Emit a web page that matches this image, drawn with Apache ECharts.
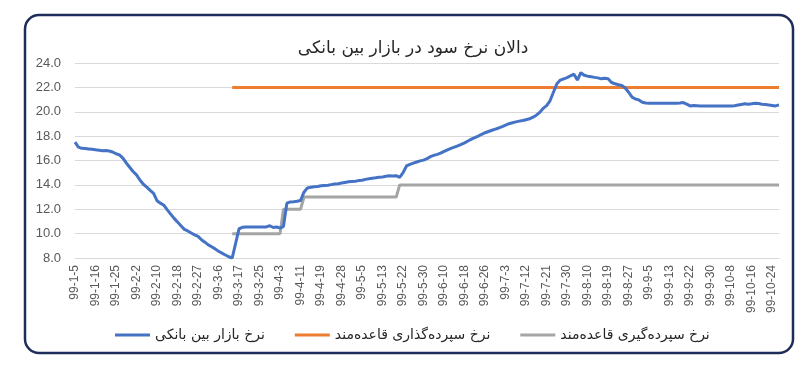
<!DOCTYPE html>
<html><head><meta charset="utf-8">
<script src="https://cdn.jsdelivr.net/npm/echarts@6/dist/echarts.min.js"></script>
<style>html,body{margin:0;padding:0;background:#fff}#c{width:800px;height:381px}</style>
</head><body><div id="c"></div>
<script>
const chartTitle = 'دالان نرخ سود در بازار بین بانکی';
const seriesNames = ['نرخ بازار بین بانکی', 'نرخ سپرده‌گذاری قاعده‌مند', 'نرخ سپرده‌گیری قاعده‌مند'];
const tickLabels = ['99-1-5','99-1-16','99-1-25','99-2-2','99-2-10','99-2-18','99-2-27','99-3-6','99-3-17','99-3-25','99-4-3','99-4-11','99-4-19','99-4-28','99-5-5','99-5-13','99-5-22','99-5-30','99-6-10','99-6-18','99-6-26','99-7-3','99-7-12','99-7-21','99-7-30','99-8-10','99-8-19','99-8-27','99-9-5','99-9-13','99-9-22','99-9-30','99-10-8','99-10-16','99-10-24'];
const tailDates = ['99-10-25','99-10-26'];
const yTicks = [8, 10, 12, 14, 16, 18, 20, 22, 24];

const interbank = [
17.5,17.1,17.0,16.98,16.95,16.92,16.88,16.85,16.8,16.82,
16.78,16.7,16.55,16.46,16.2,15.8,15.45,15.1,14.82,14.4,
14.05,13.82,13.55,13.3,12.7,12.5,12.33,11.95,11.6,11.25,
10.95,10.65,10.35,10.22,10.05,9.9,9.77,9.5,9.3,9.08,
8.92,8.75,8.55,8.4,8.25,8.1,8.0,9.2,10.4,10.52,
10.55,10.55,10.55,10.55,10.55,10.55,10.55,10.65,10.5,10.55,
10.45,10.6,12.5,12.6,12.62,12.65,12.72,13.4,13.75,13.8,
13.85,13.87,13.92,13.95,13.97,14.02,14.07,14.1,14.15,14.2,
14.25,14.28,14.3,14.35,14.38,14.45,14.5,14.55,14.58,14.62,
14.65,14.7,14.75,14.72,14.75,14.62,15.0,15.55,15.68,15.78,
15.88,15.97,16.03,16.15,16.32,16.42,16.5,16.6,16.75,16.88,
17.0,17.1,17.2,17.32,17.45,17.6,17.75,17.88,18.0,18.15,
18.28,18.38,18.48,18.58,18.67,18.78,18.9,19.02,19.1,19.17,
19.23,19.28,19.35,19.42,19.55,19.72,19.95,20.28,20.5,20.9,
21.6,22.3,22.6,22.7,22.8,22.95,23.08,22.6,23.2,23.0,
22.92,22.88,22.82,22.78,22.7,22.75,22.7,22.4,22.3,22.22,
22.15,21.95,21.6,21.2,21.05,20.97,20.78,20.72,20.7,20.7,
20.7,20.7,20.7,20.7,20.7,20.7,20.7,20.72,20.75,20.62,
20.48,20.52,20.5,20.48,20.48,20.48,20.48,20.48,20.48,20.48,
20.48,20.48,20.48,20.5,20.55,20.6,20.65,20.62,20.65,20.7,
20.68,20.62,20.6,20.56,20.52,20.48,20.56
];

const depositFacility = [
null,null,null,null,null,null,null,null,null,null,
null,null,null,null,null,null,null,null,null,null,
null,null,null,null,null,null,null,null,null,null,
null,null,null,null,null,null,null,null,null,null,
null,null,null,null,null,null,22,22,22,22,
22,22,22,22,22,22,22,22,22,22,
22,22,22,22,22,22,22,22,22,22,
22,22,22,22,22,22,22,22,22,22,
22,22,22,22,22,22,22,22,22,22,
22,22,22,22,22,22,22,22,22,22,
22,22,22,22,22,22,22,22,22,22,
22,22,22,22,22,22,22,22,22,22,
22,22,22,22,22,22,22,22,22,22,
22,22,22,22,22,22,22,22,22,22,
22,22,22,22,22,22,22,22,22,22,
22,22,22,22,22,22,22,22,22,22,
22,22,22,22,22,22,22,22,22,22,
22,22,22,22,22,22,22,22,22,22,
22,22,22,22,22,22,22,22,22,22,
22,22,22,22,22,22,22,22,22,22,
22,22,22,22,22,22,22
];

const lendingFacility = [
null,null,null,null,null,null,null,null,null,null,
null,null,null,null,null,null,null,null,null,null,
null,null,null,null,null,null,null,null,null,null,
null,null,null,null,null,null,null,null,null,null,
null,null,null,null,null,null,10,10,10,10,
10,10,10,10,10,10,10,10,10,10,
10,12,12,12,12,12,12,13,13,13,
13,13,13,13,13,13,13,13,13,13,
13,13,13,13,13,13,13,13,13,13,
13,13,13,13,13,14,14,14,14,14,
14,14,14,14,14,14,14,14,14,14,
14,14,14,14,14,14,14,14,14,14,
14,14,14,14,14,14,14,14,14,14,
14,14,14,14,14,14,14,14,14,14,
14,14,14,14,14,14,14,14,14,14,
14,14,14,14,14,14,14,14,14,14,
14,14,14,14,14,14,14,14,14,14,
14,14,14,14,14,14,14,14,14,14,
14,14,14,14,14,14,14,14,14,14,
14,14,14,14,14,14,14,14,14,14,
14,14,14,14,14,14,14
];

// Full category list: labelled dates every 6th point, intermediate dates spaced between them (labels only).
const monthLen = [31,31,31,31,31,31,30,30,30,30,30,29];
function toDay(s){const p=s.split('-');const m=+p[1],d=+p[2];let n=0;for(let i=0;i<m-1;i++)n+=monthLen[i];return n+d;}
function fromDay(n){let m=0;while(n>monthLen[m]){n-=monthLen[m];m++;}return '99-'+(m+1)+'-'+n;}
const categories = [];
for (let k = 0; k < tickLabels.length; k++) {
  categories.push(tickLabels[k]);
  if (k < tickLabels.length - 1) {
    const a = toDay(tickLabels[k]), b = toDay(tickLabels[k+1]);
    for (let j = 1; j < 6; j++) categories.push(fromDay(Math.round(a + (b - a) * j / 6)));
  }
}
tailDates.forEach(d => categories.push(d));

const FONT = 'DejaVu Sans';
const chart = echarts.init(document.getElementById('c'));
chart.setOption({
  animation: false,
  backgroundColor: '#fff',
  graphic: [{
    type: 'rect', z: -1,
    shape: { x: 25, y: 15, width: 768, height: 338, r: 14 },
    style: { fill: 'none', stroke: '#1f2d5a', lineWidth: 2.5 }
  }],
  title: {
    text: chartTitle, left: 408, top: 35, textAlign: 'center',
    textStyle: { fontFamily: FONT, fontSize: 17, fontWeight: 'normal', color: '#262626' }
  },
  legend: {
    bottom: 34, left: 110, icon: 'rect', itemWidth: 35, itemHeight: 3, itemGap: 30,
    textStyle: { fontFamily: FONT, fontSize: 14, color: '#262626' },
    data: seriesNames
  },
  grid: { left: 75, right: 21, top: 63, bottom: 123, containLabel: false },
  xAxis: {
    type: 'category', data: categories, boundaryGap: false,
    axisLine: { show: true, lineStyle: { color: '#d9d9d9' } },
    axisTick: { show: false },
    axisLabel: { interval: 5, rotate: 90, margin: 7, fontFamily: 'Liberation Sans', fontSize: 12, color: '#595959' },
    splitLine: { show: false }
  },
  yAxis: {
    type: 'value', min: yTicks[0], max: yTicks[yTicks.length - 1], interval: 2,
    axisLine: { show: false }, axisTick: { show: false },
    axisLabel: { formatter: v => v.toFixed(1), fontFamily: 'Liberation Sans', fontSize: 13, color: '#595959', margin: 14 },
    splitLine: { lineStyle: { color: '#d9d9d9', width: 1 } }
  },
  series: [
    { name: seriesNames[0], type: 'line', data: interbank, symbol: 'none', lineStyle: { color: '#4472C4', width: 3 }, itemStyle: { color: '#4472C4' }, z: 3 },
    { name: seriesNames[1], type: 'line', data: depositFacility, symbol: 'none', lineStyle: { color: '#ED7D31', width: 3 }, itemStyle: { color: '#ED7D31' }, z: 2 },
    { name: seriesNames[2], type: 'line', data: lendingFacility, symbol: 'none', lineStyle: { color: '#A5A5A5', width: 3 }, itemStyle: { color: '#A5A5A5' }, z: 1 }
  ]
});
</script></body></html>
